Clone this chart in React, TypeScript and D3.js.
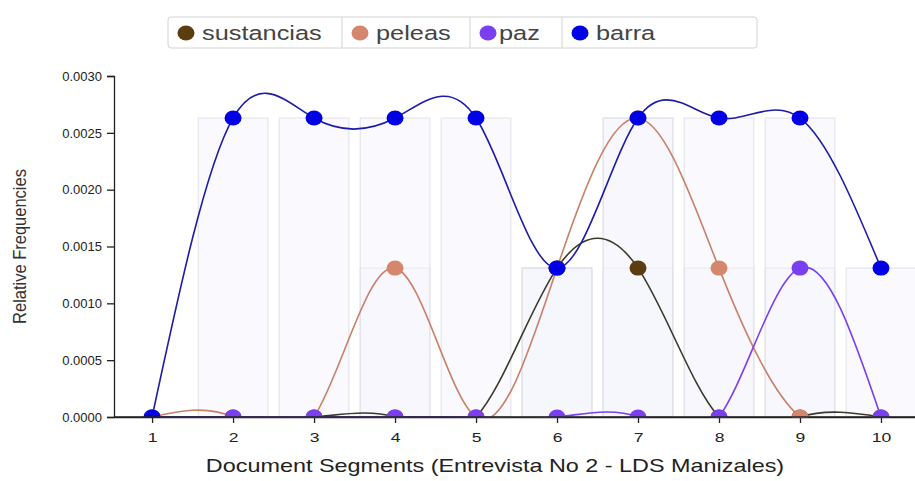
import React, { useEffect, useRef } from "react";
import * as d3 from "d3";

const segments = [1, 2, 3, 4, 5, 6, 7, 8, 9, 10];
const seriesNames = ["sustancias", "peleas", "paz", "barra"];
const sustancias = [0, 0, 0, 0, 0, 0.00131, 0.00131, 0, 0, 0];
const peleas = [0, 0, 0, 0.00131, 0, 0.00131, 0.00263, 0.00131, 0, 0];
const paz = [0, 0, 0, 0, 0, 0, 0, 0, 0.00131, 0];
const barra = [0, 0.00263, 0.00263, 0.00263, 0.00263, 0.00131, 0.00263, 0.00263, 0.00263, 0.00131];
const yTicks = [0, 0.0005, 0.001, 0.0015, 0.002, 0.0025, 0.003];

const pointColors = ["#5b3d0f", "#d4876d", "#7a3ff0", "#0000e6"];
const lineColors = ["#3a3a2a", "#c98068", "#7a3ff0", "#1c1ca8"];

const App = () => {
  const svgRef = useRef(null);

  useEffect(() => {
    document.body.style.margin = "0";
    const width = 915,
      height = 481;
    const font = "'Liberation Sans', Arial, sans-serif";
    const stretch = 1.3; // the source picture is widened horizontally

    const svg = d3.select(svgRef.current);
    svg.selectAll("*").remove();
    svg.attr("width", width).attr("height", height).style("background", "#fff");

    const values = [sustancias, peleas, paz, barra];

    const x = d3.scaleLinear().domain([0.53, 10.42]).range([114, 915]);
    const y = d3.scaleLinear().domain([0, 0.003]).range([417, 76]);
    const step = x(2) - x(1);
    const barW = step * 0.86;

    // clip curves and dots at the x axis
    svg
      .append("defs")
      .append("clipPath")
      .attr("id", "plot-clip")
      .append("rect")
      .attr("x", x.range()[0])
      .attr("y", 0)
      .attr("width", width - x.range()[0])
      .attr("height", y(0) + 1);

    // background bars, one per non-zero value
    const bars = svg.append("g");
    values.forEach((vals) => {
      vals.forEach((v, i) => {
        if (!v) return;
        bars
          .append("rect")
          .attr("x", x(segments[i]) - barW / 2)
          .attr("y", y(v))
          .attr("width", barW)
          .attr("height", y(0) - y(v))
          .attr("fill", "#f3f3fc")
          .attr("fill-opacity", 0.45)
          .attr("stroke", "#e0e0e8")
          .attr("stroke-width", 1);
      });
    });

    // axes
    const yAxis = svg
      .append("g")
      .attr("transform", `translate(${x.range()[0]},0)`)
      .call(
        d3
          .axisLeft(y)
          .tickValues(yTicks)
          .tickFormat(d3.format(".4f"))
          .tickSize(7)
      );
    yAxis
      .selectAll("text")
      .attr("font-family", font)
      .attr("font-size", 13)
      .attr("fill", "#222")
      .attr("x", -12);

    const xAxis = svg
      .append("g")
      .attr("transform", `translate(0,${y(0)})`)
      .call(d3.axisBottom(x).tickValues(segments).tickFormat(d3.format("d")).tickSizeOuter(0));
    xAxis
      .selectAll("text")
      .attr("font-family", font)
      .attr("font-size", 13.5)
      .attr("fill", "#222")
      .attr("dy", "1.2em")
      .attr("transform", `scale(${stretch},1)`);
    svg.selectAll(".domain, .tick line").attr("stroke", "#222").attr("stroke-width", 1.3);

    // axis titles
    svg
      .append("text")
      .attr("transform", `translate(26,${(y(0) + y(0.003)) / 2}) rotate(-90) scale(1,1.15)`)
      .attr("text-anchor", "middle")
      .attr("font-family", font)
      .attr("font-size", 16.5)
      .attr("fill", "#333")
      .text("Relative Frequencies");

    svg
      .append("text")
      .attr("transform", `translate(495,472) scale(${stretch},1)`)
      .attr("text-anchor", "middle")
      .attr("font-family", font)
      .attr("font-size", 18)
      .attr("fill", "#222")
      .text("Document Segments (Entrevista No 2 - LDS Manizales)");

    const plot = svg.append("g").attr("clip-path", "url(#plot-clip)");

    // lines
    const line = d3
      .line<number>()
      .x((d, i) => x(segments[i]))
      .y((d) => y(d))
      .curve(d3.curveNatural);

    values.forEach((vals, k) => {
      plot
        .append("path")
        .datum(vals)
        .attr("fill", "none")
        .attr("stroke", lineColors[k])
        .attr("stroke-width", 1.6)
        .attr("d", line);
    });

    // points
    values.forEach((vals, k) => {
      plot
        .append("g")
        .selectAll("ellipse")
        .data(vals)
        .join("ellipse")
        .attr("cx", (d, i) => x(segments[i]))
        .attr("cy", (d) => y(d))
        .attr("rx", 8.5)
        .attr("ry", 7.5)
        .attr("fill", pointColors[k]);
    });

    // redraw the x axis line on top of the clipped dots
    svg
      .append("line")
      .attr("x1", x.range()[0])
      .attr("x2", width)
      .attr("y1", y(0))
      .attr("y2", y(0))
      .attr("stroke", "#222")
      .attr("stroke-width", 1.3);

    // legend
    const legend = svg.append("g");
    const legendX = [168, 342, 470, 562, 757];
    legend
      .append("rect")
      .attr("x", legendX[0])
      .attr("y", 17)
      .attr("width", legendX[4] - legendX[0])
      .attr("height", 31)
      .attr("rx", 3)
      .attr("fill", "#fff")
      .attr("stroke", "#d2d2d2");
    seriesNames.forEach((name, k) => {
      if (k > 0) {
        legend
          .append("line")
          .attr("x1", legendX[k])
          .attr("x2", legendX[k])
          .attr("y1", 17)
          .attr("y2", 48)
          .attr("stroke", "#d2d2d2");
      }
      legend
        .append("ellipse")
        .attr("cx", legendX[k] + 18)
        .attr("cy", 33)
        .attr("rx", 8.5)
        .attr("ry", 7.5)
        .attr("fill", pointColors[k]);
      legend
        .append("text")
        .attr("transform", `translate(${legendX[k] + (k === 2 ? 29 : 34)},39.5) scale(${stretch},1)`)
        .attr("font-family", font)
        .attr("font-size", 19.5)
        .attr("fill", "#444")
        .text(name);
    });
  }, []);

  return <svg ref={svgRef}></svg>;
};

export default App;
